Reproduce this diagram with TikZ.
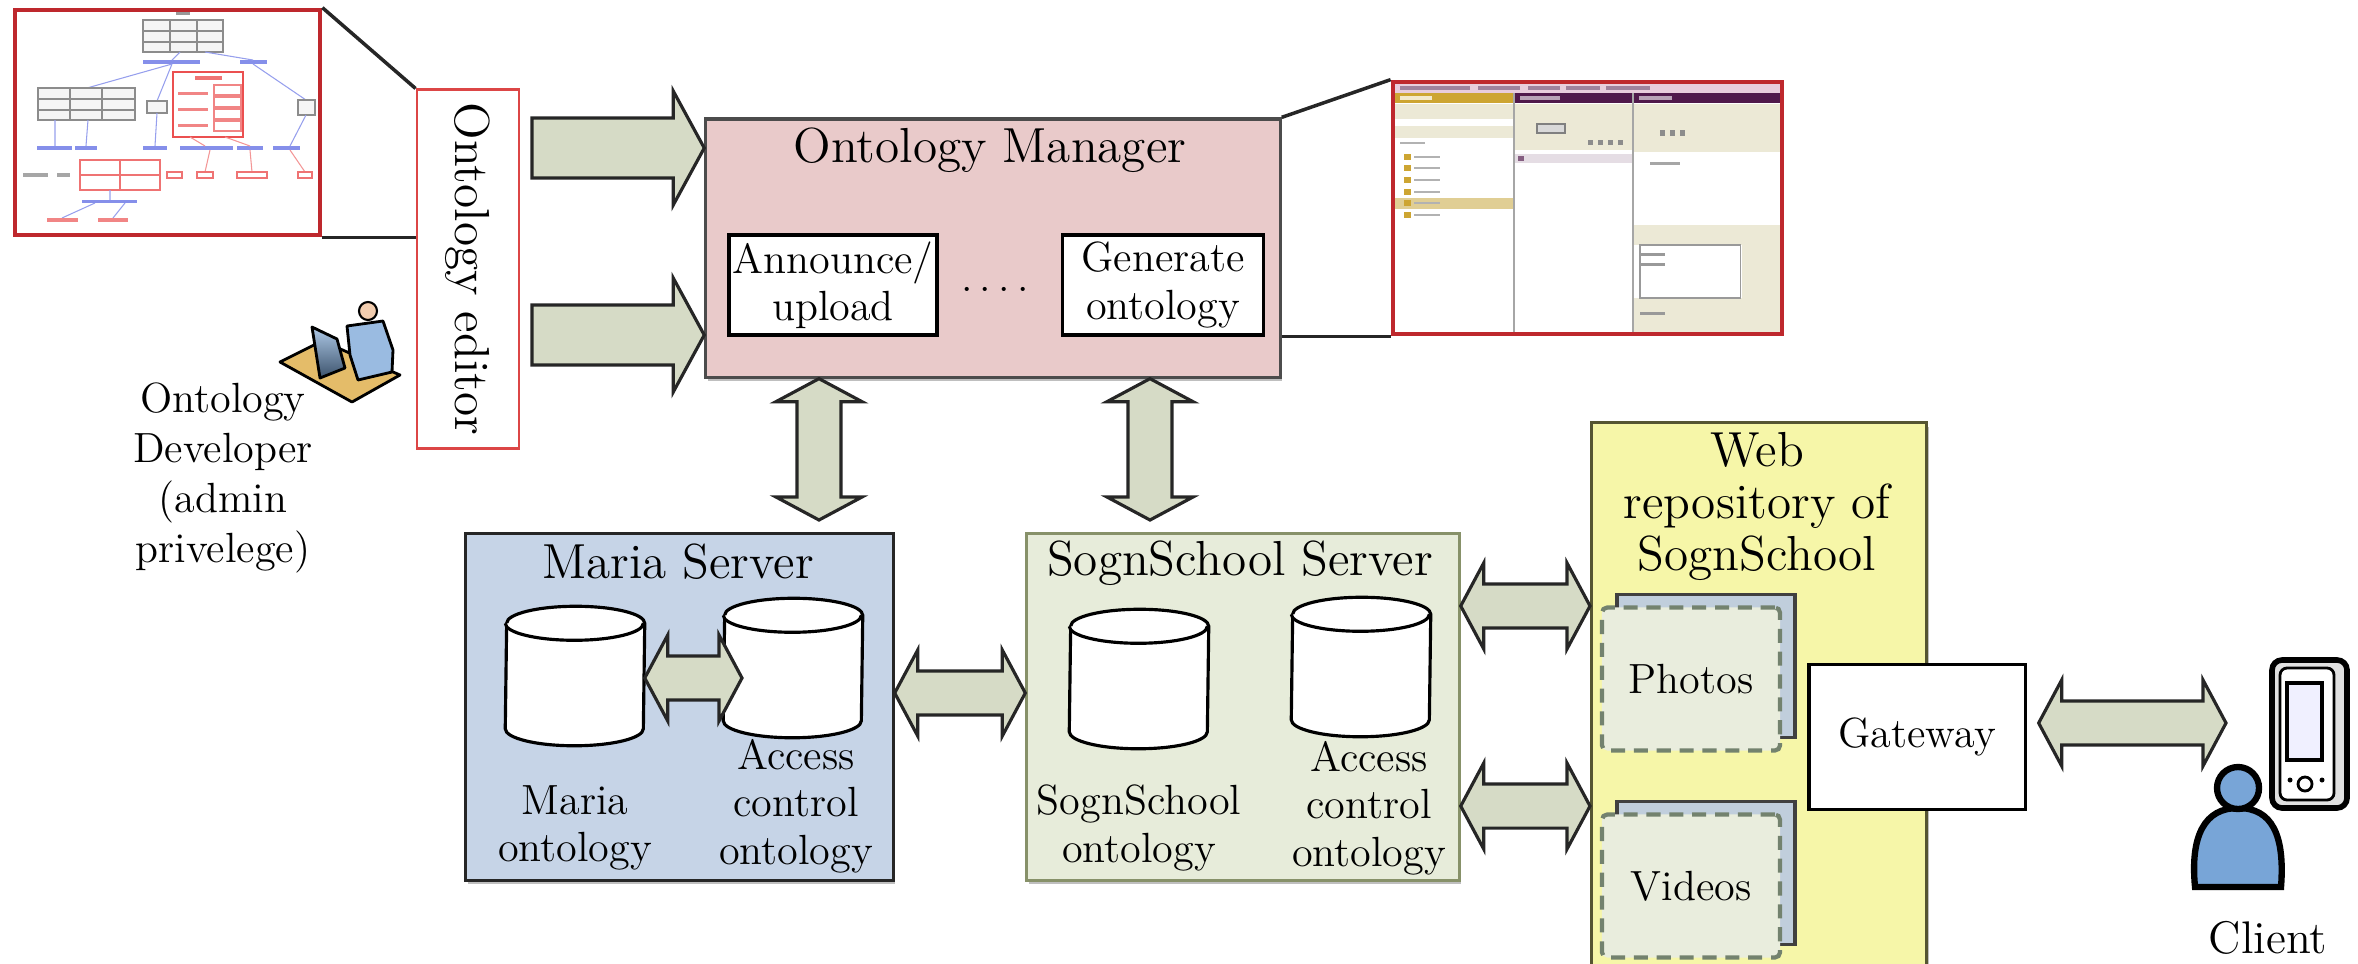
\documentclass[tikz,border=0pt]{standalone}
\usetikzlibrary{calc,shadows}

\definecolor{managerpink}{RGB}{233,202,202}
\definecolor{mariablue}{RGB}{198,212,231}
\definecolor{sognfill}{RGB}{231,236,218}
\definecolor{sognedge}{RGB}{135,145,105}
\definecolor{webyellow}{RGB}{246,246,168}
\definecolor{webedge}{RGB}{85,85,50}
\definecolor{arrowfill}{RGB}{214,219,198}
\definecolor{sheetfill}{RGB}{233,237,221}
\definecolor{sheetback}{RGB}{192,206,220}
\definecolor{sheetdash}{RGB}{115,130,110}
\definecolor{frame}{RGB}{190,40,45}
\definecolor{editred}{RGB}{220,70,70}
\definecolor{graphblue}{RGB}{80,95,225}
\definecolor{graphred}{RGB}{235,80,80}
\definecolor{guigold}{RGB}{205,165,50}
\definecolor{guipurple}{RGB}{80,25,75}
\definecolor{guipink}{RGB}{232,205,220}
\definecolor{guibeige}{RGB}{236,233,214}
\definecolor{deskbrown}{RGB}{228,188,105}
\definecolor{userblue}{RGB}{120,165,215}
\definecolor{skin}{RGB}{242,205,175}

\newcommand\lblfont{\fontsize{12}{13.5}\selectfont}
\newcommand\ttlfont{\fontsize{14}{14.8}\selectfont}

% fat arrows: half shaft, half head, head length
\newcommand\arrowsize[3]{\def\shafthalf{#1}\def\headhalf{#2}\def\headlen{#3}}
\arrowsize{0.22cm}{0.43cm}{0.23cm}

% one head, at #2
\newcommand\sglarrow[2]{%
  \path (#1) coordinate (sa) (#2) coordinate (sb);
  \coordinate (sbh) at ($(sb)!\headlen!(sa)$);
  \draw[blockarrow] ($(sa)!\shafthalf!90:(sb)$)
    -- ($(sbh)!\shafthalf!-90:(sa)$) -- ($(sbh)!\headhalf!-90:(sa)$)
    -- (sb)
    -- ($(sbh)!\headhalf!90:(sa)$) -- ($(sbh)!\shafthalf!90:(sa)$)
    -- ($(sa)!\shafthalf!-90:(sb)$) -- cycle;}

% heads at both ends
\newcommand\dblarrow[2]{%
  \path (#1) coordinate (da) (#2) coordinate (db);
  \coordinate (dah) at ($(da)!\headlen!(db)$);
  \coordinate (dbh) at ($(db)!\headlen!(da)$);
  \draw[blockarrow] (da)
    -- ($(dah)!\headhalf!90:(db)$) -- ($(dah)!\shafthalf!90:(db)$)
    -- ($(dbh)!\shafthalf!-90:(da)$) -- ($(dbh)!\headhalf!-90:(da)$)
    -- (db)
    -- ($(dbh)!\headhalf!90:(da)$) -- ($(dbh)!\shafthalf!90:(da)$)
    -- ($(dah)!\shafthalf!-90:(db)$) -- ($(dah)!\headhalf!-90:(db)$)
    -- cycle;}

% storage drum drawn round a store node
\newcommand\drum[1]{%
  \draw[drumline] ($(#1.south west)+(0,-17)$)
    arc[start angle=180, end angle=360, x radius=0.69cm, y radius=0.17cm]
    -- ($(#1.north east)+(0,17)$)
    arc[start angle=0, end angle=180, x radius=0.69cm, y radius=0.17cm] -- cycle;
  \draw[drumline] ($(#1.north west)+(0,17)$)
    arc[start angle=180, end angle=360, x radius=0.69cm, y radius=0.17cm];}

\begin{document}
\begin{tikzpicture}[
    x=0.01cm, y=-0.01cm,
    group/.style={
        rectangle,
        draw,
        line width=0.9pt,
        drop shadow={shadow xshift=0.5pt, shadow yshift=-1.2pt, fill=black!50}
    },
    plainbox/.style={
        rectangle,
        draw,
        fill=white,
        line width=0.9pt,
        inner sep=1pt,
        align=center,
        font=\lblfont
    },
    heading/.style={
        inner sep=0pt,
        align=center,
        font=\ttlfont
    },
    caption/.style={
        inner sep=0pt,
        align=center,
        font=\lblfont
    },
    store/.style={
        rectangle,
        minimum width=1.38cm,
        minimum height=1.38cm,
        inner sep=0pt
    },
    drumline/.style={
        draw=black,
        fill=white,
        line width=0.9pt
    },
    shot/.style={
        rectangle,
        draw=frame,
        line width=1.3pt
    },
    sheet/.style={
        rectangle,
        draw=sheetdash,
        fill=sheetfill,
        line width=1.2pt,
        dash pattern=on 4pt off 2.5pt,
        rounded corners=1.5pt,
        minimum width=1.78cm,
        minimum height=1.43cm,
        font=\lblfont
    },
    sheetbehind/.style={
        rectangle,
        draw=black!75,
        fill=sheetback,
        line width=0.9pt,
        minimum width=1.78cm,
        minimum height=1.43cm
    },
    blockarrow/.style={
        draw=black!85,
        fill=arrowfill,
        line width=0.9pt,
        line join=miter
    },
    link/.style={
        line width=1pt,
        black!85
    }
]
\useasboundingbox (0,0) rectangle (2358,963);

% ---- class graph shown by the editor
\begin{scope}[line width=0.3pt]
  \draw[black!45, fill=black!4] (143,20) rectangle (223,52);
  \draw[black!45] (170,20) -- (170,52) (197,20) -- (197,52)
    (143,31) -- (223,31) (143,42) -- (223,42);
  \fill[black!40] (176,12) rectangle (190,15);
  \fill[graphblue!70] (143,60) rectangle (200,64);
  \fill[graphblue!70] (240,60) rectangle (267,64);
  \draw[graphblue!60] (180,52) -- (172,60) (172,64) -- (87,88)
    (172,64) -- (157,101) (205,52) -- (253,60) (253,64) -- (306,100);
  % left class
  \draw[black!45, fill=black!4] (38,88) rectangle (135,120);
  \draw[black!45] (70,88) -- (70,120) (102,88) -- (102,120)
    (38,99) -- (135,99) (38,110) -- (135,110);
  \draw[black!45, fill=black!4] (147,101) rectangle (167,113);
  \draw[black!45, fill=black!4] (298,100) rectangle (315,115);
  % red cluster
  \draw[graphred] (173,72) rectangle (243,137);
  \fill[graphred!80] (195,76) rectangle (222,80);
  \foreach \y in {92,108,124}
    \fill[graphred!70] (178,\y) rectangle (208,\y+3);
  \foreach \y in {88,100,112,124}
    \draw[graphred!70] (214,\y-3) rectangle (241,\y+7);
  % blue labels row
  \foreach \a/\b in {37/72,75/97,143/167,180/233,237/263,273/300}
    \fill[graphblue!70] (\a,146) rectangle (\b,150);
  \draw[graphblue!60] (55,120) -- (55,146) (88,120) -- (86,146)
    (157,113) -- (155,146) (306,115) -- (290,146);
  \draw[graphred!60] (190,137) -- (205,146) (225,137) -- (250,146)
    (210,150) -- (205,172) (250,150) -- (252,172) (290,150) -- (305,172);
  % red boxes below
  \draw[graphred!80] (80,160) rectangle (160,190);
  \draw[graphred!80] (120,160) -- (120,190) (80,175) -- (160,175);
  \foreach \a/\b in {167/182,197/213,237/267,298/312}
    \draw[graphred!80] (\a,172) rectangle (\b,178);
  \fill[black!35] (23,173) rectangle (48,177);
  \fill[black!35] (57,173) rectangle (70,177);
  \draw[graphblue!60] (110,190) -- (110,200) (95,203) -- (62,218) (125,203) -- (113,218);
  \fill[graphblue!70] (82,200) rectangle (137,203);
  \fill[graphred!70] (47,218) rectangle (78,222);
  \fill[graphred!70] (98,218) rectangle (128,222);
\end{scope}
\node[shot, minimum width=3.05cm, minimum height=2.25cm] (graphshot) at (167.5,122.5) {};

% ---- editor window shown by the manager
\begin{scope}[line width=0.3pt]
  \fill[white] (1393,82) rectangle (1782,334);
  \fill[guipink] (1395,84) rectangle (1780,93);
  \foreach \a/\b in {1400/1470,1478/1520,1528/1560,1566/1600,1606/1650}
    \fill[guipurple!55] (\a,86) rectangle (\b,90);
  \fill[guigold] (1395,93) rectangle (1513,103);
  \fill[guipurple] (1515,93) rectangle (1632,103);
  \fill[guipurple] (1634,93) rectangle (1780,103);
  \fill[white!75!guigold] (1400,96) rectangle (1432,100);
  \fill[white!60!guipurple] (1520,96) rectangle (1560,100);
  \fill[white!60!guipurple] (1639,96) rectangle (1672,100);
  \fill[guibeige] (1395,104) rectangle (1513,119);
  \fill[guibeige] (1395,126) rectangle (1513,138);
  \fill[guibeige] (1515,104) rectangle (1632,150);
  \fill[guibeige] (1634,104) rectangle (1780,152);
  \fill[guibeige] (1634,225) rectangle (1780,245);
  \fill[guibeige] (1634,298) rectangle (1780,332);
  \fill[guibeige] (1742,245) rectangle (1780,298);
  \draw[black!40] (1640,245) rectangle (1740,298);
  \draw[black!50, fill=black!15] (1537,124) rectangle (1565,133);
  \fill[guipurple!15] (1515,154) rectangle (1632,163);
  \fill[guipurple!70] (1518,156) rectangle (1524,161);
  \fill[guibeige!60!guigold] (1395,198) rectangle (1513,209);
  \foreach \y in {157,168,180,192,203,215} {
    \fill[guigold] (1404,\y-3) rectangle (1411,\y+3);
    \fill[black!30] (1414,\y-1) rectangle (1440,\y+1);
  }
  \fill[black!30] (1400,142) rectangle (1425,144);
  \foreach \x in {1588,1598,1608,1618}
    \fill[black!45] (\x,140) rectangle (\x+5,145);
  \foreach \x in {1660,1670,1680}
    \fill[black!45] (\x,130) rectangle (\x+5,136);
  \fill[black!35] (1650,162) rectangle (1680,165);
  \foreach \y in {253,263,312}
    \fill[black!40] (1640,\y) rectangle (1665,\y+3);
  \draw[black!35, line width=0.6pt] (1514,93) -- (1514,332) (1633,93) -- (1633,332);
\end{scope}
\node[shot, minimum width=3.89cm, minimum height=2.52cm] (guishot) at (1587.5,208) {};

% ---- ontology editor
\node[rectangle, draw=editred, line width=0.8pt, fill=white,
      minimum width=1.02cm, minimum height=3.58cm] (editor) at (468,269) {};
\node[heading, rotate=-90] (edlabel) at (editor.center) {Ontology editor};
\draw[link] (graphshot.north east) -- (editor.north west);
\draw[link] (graphshot.south east) -- (editor.west |- graphshot.south east);

% ---- ontology developer at the desk
\draw[line width=0.8pt, fill=deskbrown, line join=round]
  (280,362) -- (322,341) -- (400,375) -- (352,402) -- cycle;
\draw[line width=0.8pt, fill=userblue!75, line join=round]
  (347,326) -- (383,321) -- (393,350) -- (392,372) -- (358,380) -- (350,355) -- cycle;
\draw[line width=0.6pt, fill=skin] (368,311) circle[radius=0.09cm];
\draw[line width=0.8pt, top color=userblue!60, bottom color=userblue!50!black, line join=round]
  (312,327) -- (337,339) -- (345,368) -- (320,378) -- cycle;
\node[caption, font=\fontsize{12}{14.2}\selectfont] (dev) at (223,478)
  {Ontology\\Developer\\(admin\\privelege)};

% ---- ontology manager
\node[group, fill=managerpink, draw=black!70,
      minimum width=5.74cm, minimum height=2.58cm] (om) at (993,248) {};
\node[heading] (omtitle) at (990,150) {Ontology Manager};
\node[plainbox, minimum width=2.01cm, minimum height=1cm] (announce) at (833,285) {Announce/\\upload};
\node[plainbox, minimum width=2.01cm, minimum height=1cm] (generate) at (1163,285) {Generate\\ontology};
\node[caption, anchor=base] (more) at (995,291) {.\,.\,.\,.};
\draw[link] (om.north east) -- (guishot.north west);
\draw[link] (om.east |- guishot.south west) -- (guishot.south west);

\arrowsize{0.30cm}{0.57cm}{0.31cm}
\coordinate (in1) at (532,148);
\coordinate (in2) at (532,335);
\sglarrow{in1}{om.west |- in1}
\sglarrow{in2}{om.west |- in2}

% ---- servers
\node[group, fill=mariablue, draw=black!85,
      minimum width=4.27cm, minimum height=3.46cm] (maria) at (679.5,707) {};
\node[heading] (mariatitle) at (678,562) {Maria Server};
\node[store] (mariadb) at (575,676) {};
\node[store] (acl1) at (793,668) {};
\drum{mariadb}
\drum{acl1}
\node[caption] (marialbl) at (575,828) {Maria\\ontology};
\node[caption] (acl1lbl) at (796,806) {Access\\control\\ontology};

\node[group, fill=sognfill, draw=sognedge,
      minimum width=4.32cm, minimum height=3.46cm] (sogn) at (1243,707) {};
\node[heading] (sogntitle) at (1240,563) {SognSchool Server};
\node[store] (sogndb) at (1139,679) {};
\node[store] (acl2) at (1361,667) {};
\drum{sogndb}
\drum{acl2}
\node[caption] (sognlbl) at (1139,828) {SognSchool\\ontology};
\node[caption] (acl2lbl) at (1369,808) {Access\\control\\ontology};

% ---- web repository
\node[group, fill=webyellow, draw=webedge, anchor=north west,
      minimum width=3.35cm, minimum height=6cm] (web) at (1590,421) {};
\node[heading] (webtitle) at (1757,506) {Web\\repository of\\SognSchool};
\node[sheetbehind] (photosb) at (1706,666) {};
\node[sheet] (photos) at (1691,679) {Photos};
\node[sheetbehind] (videosb) at (1706,873) {};
\node[sheet] (videos) at (1691,886) {Videos};
\node[plainbox, minimum width=2.16cm, minimum height=1.45cm] (gateway) at (1917,737) {Gateway};

% ---- client
\draw[line width=1.6pt, fill=black!12, rounded corners=0.1cm] (2272,660) rectangle (2347,808);
\draw[line width=0.8pt, fill=white, rounded corners=0.07cm] (2280,668) rectangle (2334,800);
\draw[line width=0.9pt, fill=blue!6] (2287,683) rectangle (2322,760);
\draw[line width=0.8pt] (2305,784) circle[radius=0.07cm];
\fill (2290,780) circle[radius=0.025cm] (2322,780) circle[radius=0.025cm];
\draw[line width=1.8pt, fill=userblue]
  (2195,887) .. controls (2190,835) and (2205,808) .. (2238,808)
  .. controls (2272,808) and (2285,835) .. (2281,887) -- cycle;
\draw[line width=1.8pt, fill=userblue] (2238,788) circle[radius=0.21cm];
\node[caption, font=\fontsize{13}{15}\selectfont] (client) at (2268,938) {Client};

% ---- links between the parts
\arrowsize{0.22cm}{0.43cm}{0.23cm}
\coordinate (mtop) at (819,520);
\coordinate (stop) at (1150,520);
\dblarrow{om.south -| mtop}{mtop}
\dblarrow{om.south -| stop}{stop}

\coordinate (aclin) at (742,678);
\dblarrow{mariadb.east |- aclin}{aclin}

\coordinate (srv) at ([yshift=0.14cm]maria.east);
\dblarrow{srv}{srv -| sogn.west}

\coordinate (webin1) at ([yshift=1.01cm]sogn.east);
\coordinate (webin2) at ([yshift=-0.99cm]sogn.east);
\dblarrow{webin1}{webin1 -| web.west}
\dblarrow{webin2}{webin2 -| web.west}

\coordinate (clientin) at (2226,723);
\dblarrow{$(gateway.east |- clientin)+(12,0)$}{clientin}

\end{tikzpicture}
\end{document}
